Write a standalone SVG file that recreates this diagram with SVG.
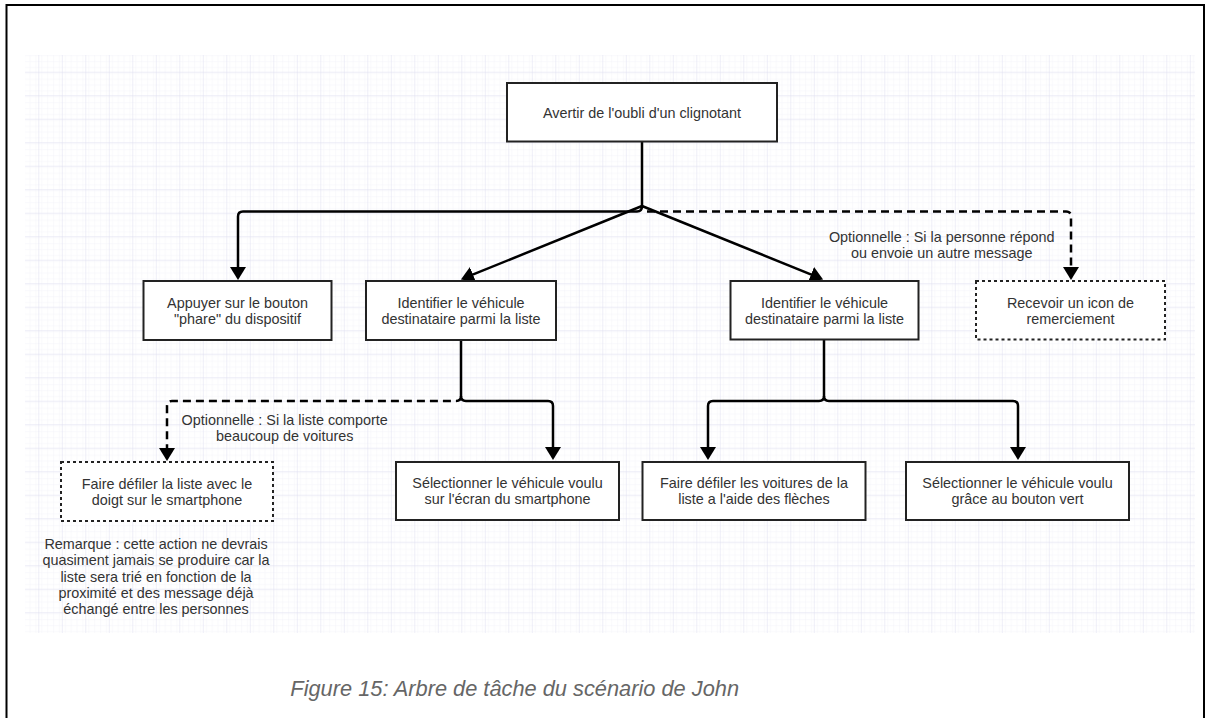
<svg xmlns="http://www.w3.org/2000/svg" width="1206" height="718" viewBox="0 0 1206 718">
  <defs>
    <pattern id="minor" x="14.8" y="1.2" width="5.875" height="5.875" patternUnits="userSpaceOnUse">
      <path d="M0,0 H5.875 M0,0 V5.875" stroke="#f3f3f9" stroke-width="1" fill="none"/>
    </pattern>
    <pattern id="major" x="14.8" y="1.2" width="23.5" height="23.5" patternUnits="userSpaceOnUse">
      <rect width="23.5" height="23.5" fill="url(#minor)"/>
      <path d="M0,0 H23.5 M0,0 V23.5" stroke="#dedeef" stroke-width="1" fill="none"/>
    </pattern>
    <marker id="arrow" markerUnits="userSpaceOnUse" markerWidth="14" markerHeight="16" refX="9" refY="8" orient="auto">
      <path d="M0,0 L13,8 L0,16 Z" fill="#000"/>
    </marker>
  </defs>
  <style>
    .box { fill: #fff; stroke: #222; stroke-width: 2; }
    .dbox { fill: #fff; stroke: #222; stroke-width: 2; stroke-dasharray: 3 3; }
    .conn { fill: none; stroke: #000; stroke-width: 2.5; }
    .dconn { fill: none; stroke: #000; stroke-width: 2.5; stroke-dasharray: 8 5; }
    text { font-family: "Liberation Sans", Arial, sans-serif; font-size: 14.4px; fill: #333; text-anchor: middle; }
    .cap { font-size: 21.8px; font-style: italic; fill: #666; }
  </style>

  <rect x="0" y="0" width="1206" height="718" fill="#fff"/>
  <rect x="6.5" y="5" width="1197.5" height="800" fill="none" stroke="#000" stroke-width="2"/>
  <rect x="25" y="55" width="1170" height="578" fill="url(#major)"/>

  <g id="connectors">
    <path class="conn" d="M642,142 V206 Q642,211.5 637,211.5 H243 Q238,211.5 238,216.5 V276" marker-end="url(#arrow)"/>
    <path class="conn" d="M642,206 L464.6,277.9" marker-end="url(#arrow)"/>
    <path class="conn" d="M642,206 L819.4,277.9" marker-end="url(#arrow)"/>
    <path class="dconn" d="M647,211.5 H1066 Q1071,211.5 1071,216.5 V276" marker-end="url(#arrow)"/>
    <path class="conn" d="M461,340 V396 Q461,401 466,401 H548 Q553,401 553,406 V456" marker-end="url(#arrow)"/>
    <path class="dconn" d="M461,396 Q461,401 456,401 H172 Q167,401 167,406 V457" marker-end="url(#arrow)"/>
    <path class="conn" d="M824,340 V396 Q824,401 819,401 H713 Q708,401 708,406 V456" marker-end="url(#arrow)"/>
    <path class="conn" d="M824,396 Q824,401 829,401 H1013 Q1018,401 1018,406 V456" marker-end="url(#arrow)"/>
  </g>

  <g id="n-root">
    <rect class="box" x="507" y="83" width="270" height="58.5"/>
    <text x="642" y="117.5">Avertir de l'oubli d'un clignotant</text>
  </g>
  <g id="n-appuyer">
    <rect class="box" x="143.5" y="281" width="188" height="59"/>
    <text x="237.5" y="307.7">Appuyer sur le bouton</text>
    <text x="237.5" y="323.7">"phare" du dispositif</text>
  </g>
  <g id="n-identifier1">
    <rect class="box" x="366" y="281" width="190" height="59"/>
    <text x="461" y="307.7">Identifier le véhicule</text>
    <text x="461" y="323.7">destinataire parmi la liste</text>
  </g>
  <g id="n-identifier2">
    <rect class="box" x="730.5" y="281" width="188" height="58.5"/>
    <text x="824.5" y="307.7">Identifier le véhicule</text>
    <text x="824.5" y="323.7">destinataire parmi la liste</text>
  </g>
  <g id="n-recevoir">
    <rect class="dbox" x="976" y="281" width="189" height="58.5"/>
    <text x="1070.5" y="307.7">Recevoir un icon de</text>
    <text x="1070.5" y="323.7">remerciement</text>
  </g>
  <g id="l-optionnelle1">
    <text x="941.7" y="241.7">Optionnelle : Si la personne répond</text>
    <text x="941.7" y="258.3">ou envoie un autre message</text>
  </g>
  <g id="l-optionnelle2">
    <text x="284.7" y="425">Optionnelle : Si la liste comporte</text>
    <text x="284.7" y="441">beaucoup de voitures</text>
  </g>
  <g id="n-defiler-doigt">
    <rect class="dbox" x="61" y="462" width="212" height="59"/>
    <text x="167" y="488.5">Faire défiler la liste avec le</text>
    <text x="167" y="504.5">doigt sur le smartphone</text>
  </g>
  <g id="n-selectionner-ecran">
    <rect class="box" x="396" y="462" width="223" height="58"/>
    <text x="507.5" y="488">Sélectionner le véhicule voulu</text>
    <text x="507.5" y="504.3">sur l'écran du smartphone</text>
  </g>
  <g id="n-defiler-fleches">
    <rect class="box" x="642.5" y="462" width="223" height="58"/>
    <text x="754" y="488">Faire défiler les voitures de la</text>
    <text x="754" y="504.3">liste a l'aide des flèches</text>
  </g>
  <g id="n-selectionner-vert">
    <rect class="box" x="906" y="462" width="223" height="58"/>
    <text x="1017.5" y="488">Sélectionner le véhicule voulu</text>
    <text x="1017.5" y="504.3">grâce au bouton vert</text>
  </g>
  <g id="remarque">
    <text x="156" y="548.5">Remarque : cette action ne devrais</text>
    <text x="156" y="565">quasiment jamais se produire car la</text>
    <text x="156" y="581.5">liste sera trié en fonction de la</text>
    <text x="156" y="598">proximité et des message déjà</text>
    <text x="156" y="613.5">échangé entre les personnes</text>
  </g>
  <text class="cap" x="514.7" y="696">Figure 15: Arbre de tâche du scénario de John</text>
</svg>
